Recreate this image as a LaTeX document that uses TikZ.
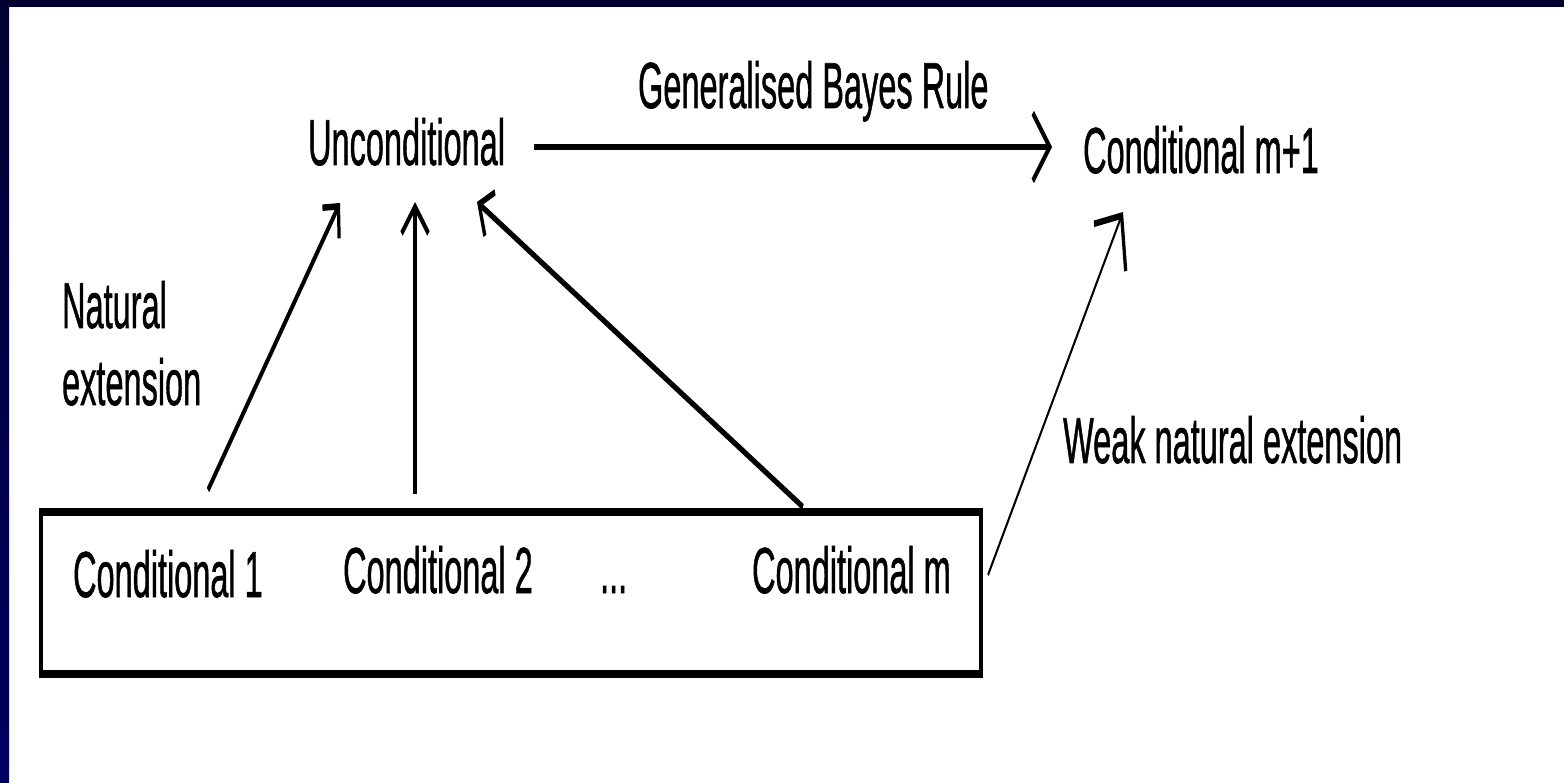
\documentclass[tikz,border=0pt]{standalone}
\usepackage{fontspec}
\setmainfont{Liberation Sans}
\newfontfamily\lblfont{Liberation Sans}[FakeBold=1.2]
\usetikzlibrary{arrows.meta}
\definecolor{navytop}{RGB}{0,0,48}
\definecolor{navybot}{RGB}{0,0,96}
\begin{document}
\begin{tikzpicture}[x=1pt,y=-1pt]
\useasboundingbox (0,0) rectangle (1564,783);
\fill[white] (0,0) rectangle (1564,783);
\shade[top color=navytop, bottom color=navybot] (0,0) rectangle (9,783);
\fill[navytop] (0,0) rectangle (1564,7);
\begin{scope}[transform canvas={xscale=0.5}, x=2pt, y=-1pt,
  lbl/.style={inner sep=0pt, anchor=base west, font=\lblfont\fontsize{65}{77}\selectfont},
  conn/.style={line width=6.5pt, -{Straight Barb[angle=90:#1, line width=6.5pt]}}]
  % labels
  \node[lbl] (gbr) at (638,108) {Generalised Bayes Rule};
  \node[lbl] (unc) at (308,165) {Unconditional};
  \node[lbl] (cm1) at (1083,173) {Conditional m+1};
  \node[lbl, align=left] (nat) at (62,405) {Natural\\extension};
  \node[lbl] (wne) at (1063,463) {Weak natural extension};
  % box of conditionals
  \node[draw, line width=8pt, minimum width=1880pt, minimum height=162pt,
        inner sep=0pt, outer sep=0pt, anchor=north west] (box) at (41,511.5) {};
  \node[lbl] (c1) at (73,597) {Conditional 1};
  \node[lbl] (c2) at (343,593) {Conditional 2};
  \node[lbl] (dots) at (600,593) {...};
  \node[lbl] (cm) at (752,593) {Conditional m};
  % connector end points
  \coordinate (hs) at (534,147);
  \coordinate (he) at (1052,147);
  \coordinate (s1) at (208,490);
  \coordinate (t1) at (340,203);
  \coordinate (s2) at (415,494);
  \coordinate (t2) at (415,202);
  \coordinate (s3) at (803,507);
  \coordinate (t3) at (477,202);
  \coordinate (s4) at (988,575);
  \coordinate (t4) at (1123,212);
  % connectors
  \draw[conn=48pt] (hs) -- (he);
  \draw[conn=32pt] (s1) -- (t1);
  \draw[conn=38pt] (s2) -- (t2);
  \draw[conn=34pt] (s3) -- (t3);
  \draw[conn=56pt, line width=3.5pt] (s4) -- (t4);
\end{scope}
\end{tikzpicture}
\end{document}
